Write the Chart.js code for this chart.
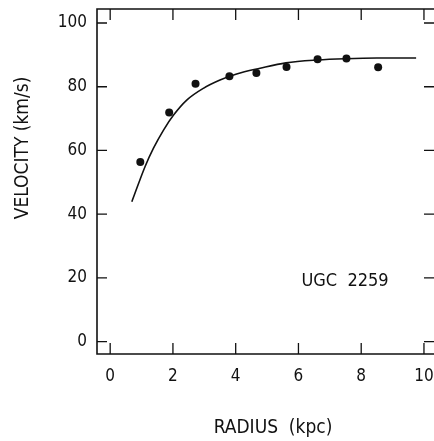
<!DOCTYPE html>
<html>
<head>
<meta charset="utf-8">
<script src="https://cdn.jsdelivr.net/npm/chart.js@4.4.0/dist/chart.umd.min.js"></script>
<style>
html,body{margin:0;padding:0;background:#fff;overflow:hidden;}
#wrap{width:434px;height:441px;}
</style>
</head>
<body>
<div id="wrap"><canvas id="c" width="434" height="441"></canvas></div>
<script>
// Observed rotation-curve points
const radius = [0.96, 1.88, 2.72, 3.80, 4.66, 5.62, 6.61, 7.53, 8.54];
const velocity = [56.4, 71.9, 80.9, 83.3, 84.3, 86.2, 88.6, 88.9, 86.1];
// Model curve
const fitRadius = [0.69, 1.11, 1.38, 1.70, 2.02, 2.44, 2.97, 3.50, 4.03, 4.78, 5.6, 6.6, 7.5, 8.5, 9.75];
const fitVelocity = [43.9, 54.9, 60.7, 66.4, 71.1, 75.8, 79.5, 82.1, 84.0, 85.8, 87.5, 88.4, 88.8, 89.0, 89.0];
// Tick labels
const xTicks = [0, 2, 4, 6, 8, 10];
const yTicks = [0, 20, 40, 60, 80, 100];
const xTitle = 'RADIUS  (kpc)';
const yTitle = 'VELOCITY (km/s)';
const galaxyLabel = 'UGC  2259';

const FONT = '"DejaVu Sans Condensed", "DejaVu Sans", sans-serif';
const INK = '#111';

const framePlugin = {
  id: 'frame',
  afterDraw(chart) {
    const {ctx, chartArea: {left, top, right, bottom}, scales: {x, y}} = chart;
    ctx.save();
    ctx.strokeStyle = INK;
    ctx.lineWidth = 1.6;
    ctx.beginPath();
    ctx.moveTo(right + 2, top); ctx.lineTo(left, top); ctx.lineTo(left, bottom); ctx.lineTo(right + 2, bottom);
    ctx.stroke();
    ctx.lineWidth = 1.3;
    ctx.beginPath();
    xTicks.forEach(v => {
      const px = x.getPixelForValue(v);
      ctx.moveTo(px, bottom); ctx.lineTo(px, bottom - 11);
      ctx.moveTo(px, top); ctx.lineTo(px, top + 11);
    });
    yTicks.forEach(v => {
      const py = y.getPixelForValue(v);
      ctx.moveTo(left, py); ctx.lineTo(left + 10, py);
      ctx.moveTo(right, py); ctx.lineTo(right - 10, py);
    });
    ctx.stroke();
    ctx.fillStyle = INK;
    ctx.textAlign = 'center';
    ctx.textBaseline = 'middle';
    ctx.font = '19px ' + FONT;
    ctx.fillText(xTitle, 273, 428);
    ctx.font = '18px ' + FONT;
    ctx.fillText(galaxyLabel, 345, 281);
    ctx.font = '19px ' + FONT;
    ctx.save();
    ctx.translate(23, 148);
    ctx.rotate(-Math.PI / 2);
    ctx.fillText(yTitle, 0, 0);
    ctx.restore();
    ctx.restore();
  }
};

new Chart(document.getElementById('c'), {
  type: 'scatter',
  data: {
    datasets: [
      {
        label: 'model',
        data: fitRadius.map((r, i) => ({x: r, y: fitVelocity[i]})),
        showLine: true,
        borderColor: INK,
        borderWidth: 1.6,
        pointRadius: 0,
        cubicInterpolationMode: 'monotone',
        fill: false
      },
      {
        label: 'observed',
        data: radius.map((r, i) => ({x: r, y: velocity[i]})),
        showLine: false,
        backgroundColor: INK,
        borderColor: INK,
        pointRadius: 4,
        pointBorderWidth: 0
      }
    ]
  },
  options: {
    responsive: false,
    animation: false,
    events: [],
    layout: {autoPadding: false, padding: {top: 9, right: 0, left: 0, bottom: 0}},
    plugins: {legend: {display: false}, tooltip: {enabled: false}},
    scales: {
      x: {
        type: 'linear',
        min: -0.42,
        max: 10.32,
        afterFit(s) { s.height = 87; s.paddingLeft = 0; s.paddingRight = 0; },
        afterBuildTicks(s) { s.ticks = xTicks.map(v => ({value: v})); },
        grid: {display: false, drawTicks: false},
        border: {display: false},
        ticks: {color: INK, font: {family: FONT, size: 17}, padding: 12, maxRotation: 0, autoSkip: false}
      },
      y: {
        type: 'linear',
        min: -3.9,
        max: 104.4,
        afterFit(s) { s.width = 97; s.paddingTop = 0; s.paddingBottom = 0; },
        afterBuildTicks(s) { s.ticks = yTicks.map(v => ({value: v})); },
        grid: {display: false, drawTicks: false},
        border: {display: false},
        ticks: {color: INK, font: {family: FONT, size: 17}, padding: 10, autoSkip: false}
      }
    }
  },
  plugins: [framePlugin]
});
</script>
</body>
</html>
